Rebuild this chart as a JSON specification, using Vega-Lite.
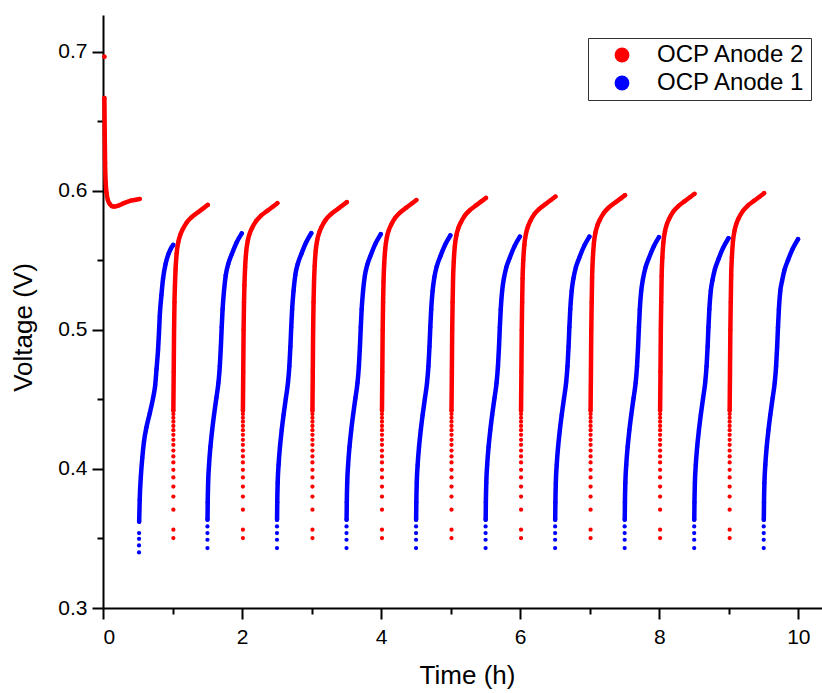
{
"$schema": "https://vega.github.io/schema/vega-lite/v6.json",
"width": 719, "height": 593,
"autosize": {"type": "none"},
"padding": {"left": 103, "top": 15, "right": 0, "bottom": 85},
"background": "white",
"config": {
  "view": {"stroke": null},
  "axis": {"domainColor": "black", "domainWidth": 2, "tickColor": "black", "tickWidth": 2, "grid": false,
    "labelFont": "Liberation Sans", "labelFontSize": 21, "labelColor": "black",
    "titleFont": "Liberation Sans", "titleFontSize": 26, "titleFontWeight": "normal", "titleColor": "black"}
},
"datasets": {
"anode2": [
{"cycle":-1,"time":0.02,"voltage":0.6966},
{"cycle":0,"time":0.02,"voltage":0.6669},{"cycle":0,"time":0.025,"voltage":0.64},{"cycle":0,"time":0.03,"voltage":0.62},{"cycle":0,"time":0.04,"voltage":0.605},{"cycle":0,"time":0.05,"voltage":0.599},{"cycle":0,"time":0.07,"voltage":0.5935},{"cycle":0,"time":0.1,"voltage":0.5905},{"cycle":0,"time":0.135,"voltage":0.589},{"cycle":0,"time":0.17,"voltage":0.5888},{"cycle":0,"time":0.22,"voltage":0.5895},{"cycle":0,"time":0.3,"voltage":0.5912},{"cycle":0,"time":0.4,"voltage":0.593},{"cycle":0,"time":0.528,"voltage":0.5943},
{"cycle":1,"time":1.012,"voltage":0.3503},{"cycle":1,"time":1.012,"voltage":0.3563},{"cycle":1,"time":1.012,"voltage":0.3707},{"cycle":1,"time":1.012,"voltage":0.3802},{"cycle":1,"time":1.012,"voltage":0.3874},{"cycle":1,"time":1.012,"voltage":0.3939},{"cycle":1,"time":1.012,"voltage":0.3994},{"cycle":1,"time":1.012,"voltage":0.4047},{"cycle":1,"time":1.012,"voltage":0.409},{"cycle":1,"time":1.012,"voltage":0.4133},{"cycle":1,"time":1.012,"voltage":0.4174},{"cycle":1,"time":1.012,"voltage":0.421},{"cycle":1,"time":1.012,"voltage":0.4246},{"cycle":1,"time":1.012,"voltage":0.4279},{"cycle":1,"time":1.012,"voltage":0.431},{"cycle":1,"time":1.012,"voltage":0.434},{"cycle":1,"time":1.012,"voltage":0.4368},{"cycle":1,"time":1.012,"voltage":0.4395},{"cycle":1,"time":1.012,"voltage":0.442},
{"cycle":1,"time":1.017,"voltage":0.47},{"cycle":1,"time":1.022,"voltage":0.5},{"cycle":1,"time":1.028,"voltage":0.52},{"cycle":1,"time":1.034,"voltage":0.531},{"cycle":1,"time":1.044,"voltage":0.544},{"cycle":1,"time":1.059,"voltage":0.555},{"cycle":1,"time":1.082,"voltage":0.563},{"cycle":1,"time":1.112,"voltage":0.5685},{"cycle":1,"time":1.142,"voltage":0.572},{"cycle":1,"time":1.202,"voltage":0.5772},{"cycle":1,"time":1.272,"voltage":0.581},{"cycle":1,"time":1.362,"voltage":0.5845},{"cycle":1,"time":1.442,"voltage":0.5875},{"cycle":1,"time":1.507,"voltage":0.59},
{"cycle":2,"time":2.012,"voltage":0.3503},{"cycle":2,"time":2.012,"voltage":0.3563},{"cycle":2,"time":2.012,"voltage":0.3707},{"cycle":2,"time":2.012,"voltage":0.3802},{"cycle":2,"time":2.012,"voltage":0.3874},{"cycle":2,"time":2.012,"voltage":0.3939},{"cycle":2,"time":2.012,"voltage":0.3994},{"cycle":2,"time":2.012,"voltage":0.4047},{"cycle":2,"time":2.012,"voltage":0.409},{"cycle":2,"time":2.012,"voltage":0.4133},{"cycle":2,"time":2.012,"voltage":0.4174},{"cycle":2,"time":2.012,"voltage":0.421},{"cycle":2,"time":2.012,"voltage":0.4246},{"cycle":2,"time":2.012,"voltage":0.4279},{"cycle":2,"time":2.012,"voltage":0.431},{"cycle":2,"time":2.012,"voltage":0.434},{"cycle":2,"time":2.012,"voltage":0.4368},{"cycle":2,"time":2.012,"voltage":0.4395},{"cycle":2,"time":2.012,"voltage":0.442},
{"cycle":2,"time":2.017,"voltage":0.47},{"cycle":2,"time":2.022,"voltage":0.5},{"cycle":2,"time":2.028,"voltage":0.52},{"cycle":2,"time":2.034,"voltage":0.5322},{"cycle":2,"time":2.044,"voltage":0.5452},{"cycle":2,"time":2.059,"voltage":0.5562},{"cycle":2,"time":2.082,"voltage":0.5642},{"cycle":2,"time":2.112,"voltage":0.5697},{"cycle":2,"time":2.142,"voltage":0.5732},{"cycle":2,"time":2.202,"voltage":0.5784},{"cycle":2,"time":2.272,"voltage":0.5822},{"cycle":2,"time":2.362,"voltage":0.5857},{"cycle":2,"time":2.442,"voltage":0.5887},{"cycle":2,"time":2.507,"voltage":0.5912},
{"cycle":3,"time":3.012,"voltage":0.3503},{"cycle":3,"time":3.012,"voltage":0.3563},{"cycle":3,"time":3.012,"voltage":0.3707},{"cycle":3,"time":3.012,"voltage":0.3802},{"cycle":3,"time":3.012,"voltage":0.3874},{"cycle":3,"time":3.012,"voltage":0.3939},{"cycle":3,"time":3.012,"voltage":0.3994},{"cycle":3,"time":3.012,"voltage":0.4047},{"cycle":3,"time":3.012,"voltage":0.409},{"cycle":3,"time":3.012,"voltage":0.4133},{"cycle":3,"time":3.012,"voltage":0.4174},{"cycle":3,"time":3.012,"voltage":0.421},{"cycle":3,"time":3.012,"voltage":0.4246},{"cycle":3,"time":3.012,"voltage":0.4279},{"cycle":3,"time":3.012,"voltage":0.431},{"cycle":3,"time":3.012,"voltage":0.434},{"cycle":3,"time":3.012,"voltage":0.4368},{"cycle":3,"time":3.012,"voltage":0.4395},{"cycle":3,"time":3.012,"voltage":0.442},
{"cycle":3,"time":3.017,"voltage":0.47},{"cycle":3,"time":3.022,"voltage":0.5},{"cycle":3,"time":3.028,"voltage":0.52},{"cycle":3,"time":3.034,"voltage":0.533},{"cycle":3,"time":3.044,"voltage":0.546},{"cycle":3,"time":3.059,"voltage":0.557},{"cycle":3,"time":3.082,"voltage":0.565},{"cycle":3,"time":3.112,"voltage":0.5705},{"cycle":3,"time":3.142,"voltage":0.574},{"cycle":3,"time":3.202,"voltage":0.5792},{"cycle":3,"time":3.272,"voltage":0.583},{"cycle":3,"time":3.362,"voltage":0.5865},{"cycle":3,"time":3.442,"voltage":0.5895},{"cycle":3,"time":3.507,"voltage":0.592},
{"cycle":4,"time":4.012,"voltage":0.3503},{"cycle":4,"time":4.012,"voltage":0.3563},{"cycle":4,"time":4.012,"voltage":0.3707},{"cycle":4,"time":4.012,"voltage":0.3802},{"cycle":4,"time":4.012,"voltage":0.3874},{"cycle":4,"time":4.012,"voltage":0.3939},{"cycle":4,"time":4.012,"voltage":0.3994},{"cycle":4,"time":4.012,"voltage":0.4047},{"cycle":4,"time":4.012,"voltage":0.409},{"cycle":4,"time":4.012,"voltage":0.4133},{"cycle":4,"time":4.012,"voltage":0.4174},{"cycle":4,"time":4.012,"voltage":0.421},{"cycle":4,"time":4.012,"voltage":0.4246},{"cycle":4,"time":4.012,"voltage":0.4279},{"cycle":4,"time":4.012,"voltage":0.431},{"cycle":4,"time":4.012,"voltage":0.434},{"cycle":4,"time":4.012,"voltage":0.4368},{"cycle":4,"time":4.012,"voltage":0.4395},{"cycle":4,"time":4.012,"voltage":0.442},
{"cycle":4,"time":4.017,"voltage":0.47},{"cycle":4,"time":4.022,"voltage":0.5},{"cycle":4,"time":4.028,"voltage":0.52},{"cycle":4,"time":4.034,"voltage":0.5345},{"cycle":4,"time":4.044,"voltage":0.5475},{"cycle":4,"time":4.059,"voltage":0.5585},{"cycle":4,"time":4.082,"voltage":0.5665},{"cycle":4,"time":4.112,"voltage":0.572},{"cycle":4,"time":4.142,"voltage":0.5755},{"cycle":4,"time":4.202,"voltage":0.5807},{"cycle":4,"time":4.272,"voltage":0.5845},{"cycle":4,"time":4.362,"voltage":0.588},{"cycle":4,"time":4.442,"voltage":0.591},{"cycle":4,"time":4.507,"voltage":0.5935},
{"cycle":5,"time":5.012,"voltage":0.3503},{"cycle":5,"time":5.012,"voltage":0.3563},{"cycle":5,"time":5.012,"voltage":0.3707},{"cycle":5,"time":5.012,"voltage":0.3802},{"cycle":5,"time":5.012,"voltage":0.3874},{"cycle":5,"time":5.012,"voltage":0.3939},{"cycle":5,"time":5.012,"voltage":0.3994},{"cycle":5,"time":5.012,"voltage":0.4047},{"cycle":5,"time":5.012,"voltage":0.409},{"cycle":5,"time":5.012,"voltage":0.4133},{"cycle":5,"time":5.012,"voltage":0.4174},{"cycle":5,"time":5.012,"voltage":0.421},{"cycle":5,"time":5.012,"voltage":0.4246},{"cycle":5,"time":5.012,"voltage":0.4279},{"cycle":5,"time":5.012,"voltage":0.431},{"cycle":5,"time":5.012,"voltage":0.434},{"cycle":5,"time":5.012,"voltage":0.4368},{"cycle":5,"time":5.012,"voltage":0.4395},{"cycle":5,"time":5.012,"voltage":0.442},
{"cycle":5,"time":5.017,"voltage":0.47},{"cycle":5,"time":5.022,"voltage":0.5},{"cycle":5,"time":5.028,"voltage":0.52},{"cycle":5,"time":5.034,"voltage":0.536},{"cycle":5,"time":5.044,"voltage":0.549},{"cycle":5,"time":5.059,"voltage":0.56},{"cycle":5,"time":5.082,"voltage":0.568},{"cycle":5,"time":5.112,"voltage":0.5735},{"cycle":5,"time":5.142,"voltage":0.577},{"cycle":5,"time":5.202,"voltage":0.5822},{"cycle":5,"time":5.272,"voltage":0.586},{"cycle":5,"time":5.362,"voltage":0.5895},{"cycle":5,"time":5.442,"voltage":0.5925},{"cycle":5,"time":5.507,"voltage":0.595},
{"cycle":6,"time":6.012,"voltage":0.3503},{"cycle":6,"time":6.012,"voltage":0.3563},{"cycle":6,"time":6.012,"voltage":0.3707},{"cycle":6,"time":6.012,"voltage":0.3802},{"cycle":6,"time":6.012,"voltage":0.3874},{"cycle":6,"time":6.012,"voltage":0.3939},{"cycle":6,"time":6.012,"voltage":0.3994},{"cycle":6,"time":6.012,"voltage":0.4047},{"cycle":6,"time":6.012,"voltage":0.409},{"cycle":6,"time":6.012,"voltage":0.4133},{"cycle":6,"time":6.012,"voltage":0.4174},{"cycle":6,"time":6.012,"voltage":0.421},{"cycle":6,"time":6.012,"voltage":0.4246},{"cycle":6,"time":6.012,"voltage":0.4279},{"cycle":6,"time":6.012,"voltage":0.431},{"cycle":6,"time":6.012,"voltage":0.434},{"cycle":6,"time":6.012,"voltage":0.4368},{"cycle":6,"time":6.012,"voltage":0.4395},{"cycle":6,"time":6.012,"voltage":0.442},
{"cycle":6,"time":6.017,"voltage":0.47},{"cycle":6,"time":6.022,"voltage":0.5},{"cycle":6,"time":6.028,"voltage":0.52},{"cycle":6,"time":6.034,"voltage":0.537},{"cycle":6,"time":6.044,"voltage":0.55},{"cycle":6,"time":6.059,"voltage":0.561},{"cycle":6,"time":6.082,"voltage":0.569},{"cycle":6,"time":6.112,"voltage":0.5745},{"cycle":6,"time":6.142,"voltage":0.578},{"cycle":6,"time":6.202,"voltage":0.5832},{"cycle":6,"time":6.272,"voltage":0.587},{"cycle":6,"time":6.362,"voltage":0.5905},{"cycle":6,"time":6.442,"voltage":0.5935},{"cycle":6,"time":6.507,"voltage":0.596},
{"cycle":7,"time":7.012,"voltage":0.3503},{"cycle":7,"time":7.012,"voltage":0.3563},{"cycle":7,"time":7.012,"voltage":0.3707},{"cycle":7,"time":7.012,"voltage":0.3802},{"cycle":7,"time":7.012,"voltage":0.3874},{"cycle":7,"time":7.012,"voltage":0.3939},{"cycle":7,"time":7.012,"voltage":0.3994},{"cycle":7,"time":7.012,"voltage":0.4047},{"cycle":7,"time":7.012,"voltage":0.409},{"cycle":7,"time":7.012,"voltage":0.4133},{"cycle":7,"time":7.012,"voltage":0.4174},{"cycle":7,"time":7.012,"voltage":0.421},{"cycle":7,"time":7.012,"voltage":0.4246},{"cycle":7,"time":7.012,"voltage":0.4279},{"cycle":7,"time":7.012,"voltage":0.431},{"cycle":7,"time":7.012,"voltage":0.434},{"cycle":7,"time":7.012,"voltage":0.4368},{"cycle":7,"time":7.012,"voltage":0.4395},{"cycle":7,"time":7.012,"voltage":0.442},
{"cycle":7,"time":7.017,"voltage":0.47},{"cycle":7,"time":7.022,"voltage":0.5},{"cycle":7,"time":7.028,"voltage":0.52},{"cycle":7,"time":7.034,"voltage":0.538},{"cycle":7,"time":7.044,"voltage":0.551},{"cycle":7,"time":7.059,"voltage":0.562},{"cycle":7,"time":7.082,"voltage":0.57},{"cycle":7,"time":7.112,"voltage":0.5755},{"cycle":7,"time":7.142,"voltage":0.579},{"cycle":7,"time":7.202,"voltage":0.5842},{"cycle":7,"time":7.272,"voltage":0.588},{"cycle":7,"time":7.362,"voltage":0.5915},{"cycle":7,"time":7.442,"voltage":0.5945},{"cycle":7,"time":7.507,"voltage":0.597},
{"cycle":8,"time":8.012,"voltage":0.3503},{"cycle":8,"time":8.012,"voltage":0.3563},{"cycle":8,"time":8.012,"voltage":0.3707},{"cycle":8,"time":8.012,"voltage":0.3802},{"cycle":8,"time":8.012,"voltage":0.3874},{"cycle":8,"time":8.012,"voltage":0.3939},{"cycle":8,"time":8.012,"voltage":0.3994},{"cycle":8,"time":8.012,"voltage":0.4047},{"cycle":8,"time":8.012,"voltage":0.409},{"cycle":8,"time":8.012,"voltage":0.4133},{"cycle":8,"time":8.012,"voltage":0.4174},{"cycle":8,"time":8.012,"voltage":0.421},{"cycle":8,"time":8.012,"voltage":0.4246},{"cycle":8,"time":8.012,"voltage":0.4279},{"cycle":8,"time":8.012,"voltage":0.431},{"cycle":8,"time":8.012,"voltage":0.434},{"cycle":8,"time":8.012,"voltage":0.4368},{"cycle":8,"time":8.012,"voltage":0.4395},{"cycle":8,"time":8.012,"voltage":0.442},
{"cycle":8,"time":8.017,"voltage":0.47},{"cycle":8,"time":8.022,"voltage":0.5},{"cycle":8,"time":8.028,"voltage":0.52},{"cycle":8,"time":8.034,"voltage":0.539},{"cycle":8,"time":8.044,"voltage":0.552},{"cycle":8,"time":8.059,"voltage":0.563},{"cycle":8,"time":8.082,"voltage":0.571},{"cycle":8,"time":8.112,"voltage":0.5765},{"cycle":8,"time":8.142,"voltage":0.58},{"cycle":8,"time":8.202,"voltage":0.5852},{"cycle":8,"time":8.272,"voltage":0.589},{"cycle":8,"time":8.362,"voltage":0.5925},{"cycle":8,"time":8.442,"voltage":0.5955},{"cycle":8,"time":8.507,"voltage":0.598},
{"cycle":9,"time":9.012,"voltage":0.3503},{"cycle":9,"time":9.012,"voltage":0.3563},{"cycle":9,"time":9.012,"voltage":0.3707},{"cycle":9,"time":9.012,"voltage":0.3802},{"cycle":9,"time":9.012,"voltage":0.3874},{"cycle":9,"time":9.012,"voltage":0.3939},{"cycle":9,"time":9.012,"voltage":0.3994},{"cycle":9,"time":9.012,"voltage":0.4047},{"cycle":9,"time":9.012,"voltage":0.409},{"cycle":9,"time":9.012,"voltage":0.4133},{"cycle":9,"time":9.012,"voltage":0.4174},{"cycle":9,"time":9.012,"voltage":0.421},{"cycle":9,"time":9.012,"voltage":0.4246},{"cycle":9,"time":9.012,"voltage":0.4279},{"cycle":9,"time":9.012,"voltage":0.431},{"cycle":9,"time":9.012,"voltage":0.434},{"cycle":9,"time":9.012,"voltage":0.4368},{"cycle":9,"time":9.012,"voltage":0.4395},{"cycle":9,"time":9.012,"voltage":0.442},
{"cycle":9,"time":9.017,"voltage":0.47},{"cycle":9,"time":9.022,"voltage":0.5},{"cycle":9,"time":9.028,"voltage":0.52},{"cycle":9,"time":9.034,"voltage":0.5394},{"cycle":9,"time":9.044,"voltage":0.5524},{"cycle":9,"time":9.059,"voltage":0.5634},{"cycle":9,"time":9.082,"voltage":0.5714},{"cycle":9,"time":9.112,"voltage":0.5769},{"cycle":9,"time":9.142,"voltage":0.5804},{"cycle":9,"time":9.202,"voltage":0.5856},{"cycle":9,"time":9.272,"voltage":0.5894},{"cycle":9,"time":9.362,"voltage":0.5929},{"cycle":9,"time":9.442,"voltage":0.5959},{"cycle":9,"time":9.507,"voltage":0.5984}
],
"anode1": [
{"cycle":0,"time":0.518,"voltage":0.34},{"cycle":0,"time":0.518,"voltage":0.345},{"cycle":0,"time":0.518,"voltage":0.3498},{"cycle":0,"time":0.519,"voltage":0.3539},
{"cycle":0,"time":0.52,"voltage":0.362},{"cycle":0,"time":0.528,"voltage":0.378},{"cycle":0,"time":0.545,"voltage":0.395},{"cycle":0,"time":0.565,"voltage":0.408},{"cycle":0,"time":0.59,"voltage":0.42},{"cycle":0,"time":0.625,"voltage":0.43},{"cycle":0,"time":0.672,"voltage":0.44},{"cycle":0,"time":0.72,"voltage":0.451},{"cycle":0,"time":0.75,"voltage":0.46},{"cycle":0,"time":0.77,"voltage":0.472},{"cycle":0,"time":0.792,"voltage":0.486},{"cycle":0,"time":0.805,"voltage":0.498},{"cycle":0,"time":0.816,"voltage":0.51},{"cycle":0,"time":0.84,"voltage":0.525},{"cycle":0,"time":0.864,"voltage":0.537},{"cycle":0,"time":0.9,"voltage":0.5475},{"cycle":0,"time":0.94,"voltage":0.5545},{"cycle":0,"time":0.975,"voltage":0.5585},{"cycle":0,"time":1.01,"voltage":0.5612},
{"cycle":1,"time":1.502,"voltage":0.3431},{"cycle":1,"time":1.502,"voltage":0.3491},{"cycle":1,"time":1.502,"voltage":0.3539},{"cycle":1,"time":1.502,"voltage":0.3587},
{"cycle":1,"time":1.503,"voltage":0.3635},{"cycle":1,"time":1.506,"voltage":0.376},{"cycle":1,"time":1.512,"voltage":0.39},{"cycle":1,"time":1.525,"voltage":0.403},{"cycle":1,"time":1.545,"voltage":0.416},{"cycle":1,"time":1.57,"voltage":0.428},{"cycle":1,"time":1.597,"voltage":0.439},{"cycle":1,"time":1.63,"voltage":0.451},{"cycle":1,"time":1.66,"voltage":0.462},{"cycle":1,"time":1.68,"voltage":0.474},{"cycle":1,"time":1.695,"voltage":0.488},{"cycle":1,"time":1.707,"voltage":0.502},{"cycle":1,"time":1.72,"voltage":0.515},{"cycle":1,"time":1.74,"voltage":0.528},{"cycle":1,"time":1.765,"voltage":0.5393},{"cycle":1,"time":1.8,"voltage":0.5473},{"cycle":1,"time":1.85,"voltage":0.5543},{"cycle":1,"time":1.92,"voltage":0.5628},{"cycle":1,"time":1.995,"voltage":0.5695},
{"cycle":2,"time":2.502,"voltage":0.3431},{"cycle":2,"time":2.502,"voltage":0.3491},{"cycle":2,"time":2.502,"voltage":0.3539},{"cycle":2,"time":2.502,"voltage":0.3587},
{"cycle":2,"time":2.503,"voltage":0.3635},{"cycle":2,"time":2.506,"voltage":0.376},{"cycle":2,"time":2.512,"voltage":0.39},{"cycle":2,"time":2.525,"voltage":0.403},{"cycle":2,"time":2.545,"voltage":0.416},{"cycle":2,"time":2.57,"voltage":0.428},{"cycle":2,"time":2.597,"voltage":0.439},{"cycle":2,"time":2.63,"voltage":0.451},{"cycle":2,"time":2.66,"voltage":0.462},{"cycle":2,"time":2.68,"voltage":0.474},{"cycle":2,"time":2.695,"voltage":0.488},{"cycle":2,"time":2.707,"voltage":0.502},{"cycle":2,"time":2.72,"voltage":0.515},{"cycle":2,"time":2.74,"voltage":0.528},{"cycle":2,"time":2.765,"voltage":0.5394},{"cycle":2,"time":2.8,"voltage":0.5474},{"cycle":2,"time":2.85,"voltage":0.5544},{"cycle":2,"time":2.92,"voltage":0.5629},{"cycle":2,"time":2.995,"voltage":0.5696},
{"cycle":3,"time":3.502,"voltage":0.3431},{"cycle":3,"time":3.502,"voltage":0.3491},{"cycle":3,"time":3.502,"voltage":0.3539},{"cycle":3,"time":3.502,"voltage":0.3587},
{"cycle":3,"time":3.503,"voltage":0.3635},{"cycle":3,"time":3.506,"voltage":0.376},{"cycle":3,"time":3.512,"voltage":0.39},{"cycle":3,"time":3.525,"voltage":0.403},{"cycle":3,"time":3.545,"voltage":0.416},{"cycle":3,"time":3.57,"voltage":0.428},{"cycle":3,"time":3.597,"voltage":0.439},{"cycle":3,"time":3.63,"voltage":0.451},{"cycle":3,"time":3.66,"voltage":0.462},{"cycle":3,"time":3.68,"voltage":0.474},{"cycle":3,"time":3.695,"voltage":0.488},{"cycle":3,"time":3.707,"voltage":0.502},{"cycle":3,"time":3.72,"voltage":0.515},{"cycle":3,"time":3.74,"voltage":0.528},{"cycle":3,"time":3.765,"voltage":0.5388},{"cycle":3,"time":3.8,"voltage":0.5468},{"cycle":3,"time":3.85,"voltage":0.5538},{"cycle":3,"time":3.92,"voltage":0.5623},{"cycle":3,"time":3.995,"voltage":0.569},
{"cycle":4,"time":4.502,"voltage":0.3431},{"cycle":4,"time":4.502,"voltage":0.3491},{"cycle":4,"time":4.502,"voltage":0.3539},{"cycle":4,"time":4.502,"voltage":0.3587},
{"cycle":4,"time":4.503,"voltage":0.3635},{"cycle":4,"time":4.506,"voltage":0.376},{"cycle":4,"time":4.512,"voltage":0.39},{"cycle":4,"time":4.525,"voltage":0.403},{"cycle":4,"time":4.545,"voltage":0.416},{"cycle":4,"time":4.57,"voltage":0.428},{"cycle":4,"time":4.597,"voltage":0.439},{"cycle":4,"time":4.63,"voltage":0.451},{"cycle":4,"time":4.66,"voltage":0.462},{"cycle":4,"time":4.68,"voltage":0.474},{"cycle":4,"time":4.695,"voltage":0.488},{"cycle":4,"time":4.707,"voltage":0.502},{"cycle":4,"time":4.72,"voltage":0.515},{"cycle":4,"time":4.74,"voltage":0.528},{"cycle":4,"time":4.765,"voltage":0.5378},{"cycle":4,"time":4.8,"voltage":0.5458},{"cycle":4,"time":4.85,"voltage":0.5528},{"cycle":4,"time":4.92,"voltage":0.5613},{"cycle":4,"time":4.995,"voltage":0.568},
{"cycle":5,"time":5.502,"voltage":0.3431},{"cycle":5,"time":5.502,"voltage":0.3491},{"cycle":5,"time":5.502,"voltage":0.3539},{"cycle":5,"time":5.502,"voltage":0.3587},
{"cycle":5,"time":5.503,"voltage":0.3635},{"cycle":5,"time":5.506,"voltage":0.376},{"cycle":5,"time":5.512,"voltage":0.39},{"cycle":5,"time":5.525,"voltage":0.403},{"cycle":5,"time":5.545,"voltage":0.416},{"cycle":5,"time":5.57,"voltage":0.428},{"cycle":5,"time":5.597,"voltage":0.439},{"cycle":5,"time":5.63,"voltage":0.451},{"cycle":5,"time":5.66,"voltage":0.462},{"cycle":5,"time":5.68,"voltage":0.474},{"cycle":5,"time":5.695,"voltage":0.488},{"cycle":5,"time":5.707,"voltage":0.502},{"cycle":5,"time":5.72,"voltage":0.515},{"cycle":5,"time":5.74,"voltage":0.528},{"cycle":5,"time":5.765,"voltage":0.537},{"cycle":5,"time":5.8,"voltage":0.545},{"cycle":5,"time":5.85,"voltage":0.552},{"cycle":5,"time":5.92,"voltage":0.5605},{"cycle":5,"time":5.995,"voltage":0.5672},
{"cycle":6,"time":6.502,"voltage":0.3431},{"cycle":6,"time":6.502,"voltage":0.3491},{"cycle":6,"time":6.502,"voltage":0.3539},{"cycle":6,"time":6.502,"voltage":0.3587},
{"cycle":6,"time":6.503,"voltage":0.3635},{"cycle":6,"time":6.506,"voltage":0.376},{"cycle":6,"time":6.512,"voltage":0.39},{"cycle":6,"time":6.525,"voltage":0.403},{"cycle":6,"time":6.545,"voltage":0.416},{"cycle":6,"time":6.57,"voltage":0.428},{"cycle":6,"time":6.597,"voltage":0.439},{"cycle":6,"time":6.63,"voltage":0.451},{"cycle":6,"time":6.66,"voltage":0.462},{"cycle":6,"time":6.68,"voltage":0.474},{"cycle":6,"time":6.695,"voltage":0.488},{"cycle":6,"time":6.707,"voltage":0.502},{"cycle":6,"time":6.72,"voltage":0.515},{"cycle":6,"time":6.74,"voltage":0.528},{"cycle":6,"time":6.765,"voltage":0.537},{"cycle":6,"time":6.8,"voltage":0.545},{"cycle":6,"time":6.85,"voltage":0.552},{"cycle":6,"time":6.92,"voltage":0.5605},{"cycle":6,"time":6.995,"voltage":0.5672},
{"cycle":7,"time":7.502,"voltage":0.3431},{"cycle":7,"time":7.502,"voltage":0.3491},{"cycle":7,"time":7.502,"voltage":0.3539},{"cycle":7,"time":7.502,"voltage":0.3587},
{"cycle":7,"time":7.503,"voltage":0.3635},{"cycle":7,"time":7.506,"voltage":0.376},{"cycle":7,"time":7.512,"voltage":0.39},{"cycle":7,"time":7.525,"voltage":0.403},{"cycle":7,"time":7.545,"voltage":0.416},{"cycle":7,"time":7.57,"voltage":0.428},{"cycle":7,"time":7.597,"voltage":0.439},{"cycle":7,"time":7.63,"voltage":0.451},{"cycle":7,"time":7.66,"voltage":0.462},{"cycle":7,"time":7.68,"voltage":0.474},{"cycle":7,"time":7.695,"voltage":0.488},{"cycle":7,"time":7.707,"voltage":0.502},{"cycle":7,"time":7.72,"voltage":0.515},{"cycle":7,"time":7.74,"voltage":0.528},{"cycle":7,"time":7.765,"voltage":0.5366},{"cycle":7,"time":7.8,"voltage":0.5446},{"cycle":7,"time":7.85,"voltage":0.5516},{"cycle":7,"time":7.92,"voltage":0.5601},{"cycle":7,"time":7.995,"voltage":0.5668},
{"cycle":8,"time":8.502,"voltage":0.3431},{"cycle":8,"time":8.502,"voltage":0.3491},{"cycle":8,"time":8.502,"voltage":0.3539},{"cycle":8,"time":8.502,"voltage":0.3587},
{"cycle":8,"time":8.503,"voltage":0.3635},{"cycle":8,"time":8.506,"voltage":0.376},{"cycle":8,"time":8.512,"voltage":0.39},{"cycle":8,"time":8.525,"voltage":0.403},{"cycle":8,"time":8.545,"voltage":0.416},{"cycle":8,"time":8.57,"voltage":0.428},{"cycle":8,"time":8.597,"voltage":0.439},{"cycle":8,"time":8.63,"voltage":0.451},{"cycle":8,"time":8.66,"voltage":0.462},{"cycle":8,"time":8.68,"voltage":0.474},{"cycle":8,"time":8.695,"voltage":0.488},{"cycle":8,"time":8.707,"voltage":0.502},{"cycle":8,"time":8.72,"voltage":0.515},{"cycle":8,"time":8.74,"voltage":0.528},{"cycle":8,"time":8.765,"voltage":0.5358},{"cycle":8,"time":8.8,"voltage":0.5438},{"cycle":8,"time":8.85,"voltage":0.5508},{"cycle":8,"time":8.92,"voltage":0.5593},{"cycle":8,"time":8.995,"voltage":0.566},
{"cycle":9,"time":9.502,"voltage":0.3431},{"cycle":9,"time":9.502,"voltage":0.3491},{"cycle":9,"time":9.502,"voltage":0.3539},{"cycle":9,"time":9.502,"voltage":0.3587},
{"cycle":9,"time":9.503,"voltage":0.3635},{"cycle":9,"time":9.506,"voltage":0.376},{"cycle":9,"time":9.512,"voltage":0.39},{"cycle":9,"time":9.525,"voltage":0.403},{"cycle":9,"time":9.545,"voltage":0.416},{"cycle":9,"time":9.57,"voltage":0.428},{"cycle":9,"time":9.597,"voltage":0.439},{"cycle":9,"time":9.63,"voltage":0.451},{"cycle":9,"time":9.66,"voltage":0.462},{"cycle":9,"time":9.68,"voltage":0.474},{"cycle":9,"time":9.695,"voltage":0.488},{"cycle":9,"time":9.707,"voltage":0.502},{"cycle":9,"time":9.72,"voltage":0.515},{"cycle":9,"time":9.74,"voltage":0.528},{"cycle":9,"time":9.765,"voltage":0.5351},{"cycle":9,"time":9.8,"voltage":0.5431},{"cycle":9,"time":9.85,"voltage":0.5501},{"cycle":9,"time":9.92,"voltage":0.5586},{"cycle":9,"time":9.995,"voltage":0.5653}
]
},
"encoding": {
  "x": {"field": "time", "type": "quantitative",
    "scale": {"domain": [0, 10.34], "nice": false, "zero": false},
    "axis": {"title": "Time (h)", "values": [0,1,2,3,4,5,6,7,8,9,10],
      "labelExpr": "datum.value % 2 === 0 ? datum.label : ''",
      "tickSize": {"condition": {"test": "datum.value % 2 === 1", "value": 6}, "value": 11},
      "labelPadding": 7, "titlePadding": 15, "titleX": 364}},
  "y": {"field": "voltage", "type": "quantitative",
    "scale": {"domain": [0.3, 0.7266], "nice": false, "zero": false},
    "axis": {"title": "Voltage (V)", "values": [0.3,0.35,0.4,0.45,0.5,0.55,0.6,0.65,0.7],
      "labelExpr": "round(datum.value*100) % 10 === 0 ? format(datum.value, '.1f') : ''",
      "tickSize": {"condition": {"test": "round(datum.value*100) % 10 === 5", "value": 6}, "value": 11},
      "labelPadding": 5, "titlePadding": 21, "titleY": 312}}
},
"layer": [
  {"data": {"name": "anode1"},
   "transform": [{"filter": "datum.voltage > 0.36"}],
   "mark": {"type": "line", "color": "#0000ff", "strokeWidth": 4.5, "strokeCap": "round", "strokeJoin": "round", "interpolate": "monotone"},
   "encoding": {"detail": {"field": "cycle"}}},
  {"data": {"name": "anode2"},
   "transform": [{"filter": "datum.voltage > 0.441"}],
   "mark": {"type": "line", "color": "#ff0000", "strokeWidth": 4.5, "strokeCap": "round", "strokeJoin": "round", "interpolate": "monotone"},
   "encoding": {"detail": {"field": "cycle"}}},
  {"data": {"name": "anode1"},
   "mark": {"type": "circle", "size": 18, "opacity": 1},
   "encoding": {"color": {"datum": "OCP Anode 1",
     "scale": {"domain": ["OCP Anode 2", "OCP Anode 1"], "range": ["#ff0000", "#0000ff"]},
     "legend": {"title": null, "orient": "none", "legendX": 485, "legendY": 23, "symbolType": "circle", "symbolSize": 220,
       "symbolStrokeWidth": 0, "labelFont": "Liberation Sans", "labelFontSize": 24, "labelColor": "black",
       "strokeColor": "#333333", "fillColor": "white", "padding": 5, "rowPadding": 4, "symbolOffset": 17, "labelOffset": 23}}}},
  {"data": {"name": "anode2"},
   "mark": {"type": "circle", "size": 18, "opacity": 1},
   "encoding": {"color": {"datum": "OCP Anode 2"}}}
]
}
